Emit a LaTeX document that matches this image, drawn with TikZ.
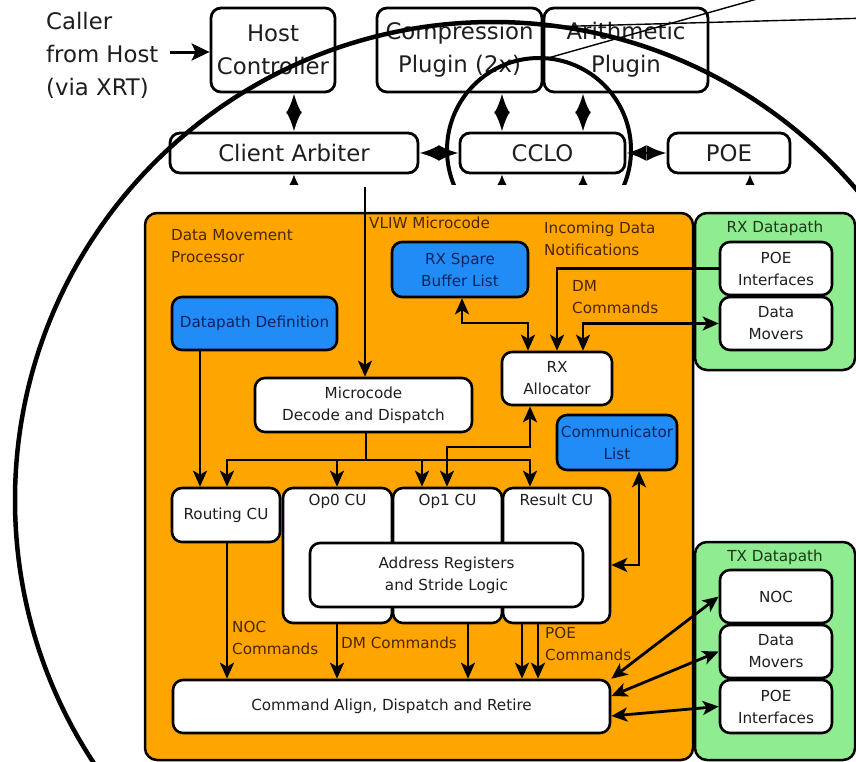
\documentclass[tikz,border=0pt]{standalone}
\usepackage{fontspec}
\setmainfont{DejaVu Sans}
\usetikzlibrary{arrows.meta}
\definecolor{dmorange}{RGB}{255,165,0}
\definecolor{dpgreen}{RGB}{144,236,144}
\definecolor{memblue}{RGB}{33,140,245}
\definecolor{dmtext}{RGB}{75,38,0}
\definecolor{bluetext}{RGB}{10,35,95}
\definecolor{greentext}{RGB}{25,55,25}
\definecolor{ink}{RGB}{30,30,30}

\begin{document}
\begin{tikzpicture}[x=1pt,y=-1pt,
  bigfont/.style={font=\fontsize{22.8}{33}\selectfont},
  smallfont/.style={font=\fontsize{15.2}{22}\selectfont},
  sized/.style 2 args={minimum width=#1pt, minimum height=#2pt},
  topbox/.style={draw, line width=2.8pt, rounded corners=10pt, fill=white, text=ink, align=center, bigfont, inner sep=0pt},
  panel/.style={draw, line width=2.5pt, rounded corners=12pt, inner sep=0pt},
  unit/.style={draw, line width=2.6pt, rounded corners=10pt, fill=white, text=ink, align=center, smallfont, inner sep=0pt},
  store/.style={unit, fill=memblue, text=bluetext},
  tag/.style={smallfont, text=dmtext, align=left, inner sep=0pt, anchor=west},
  wire/.style={line width=2.8pt},
  arr/.style={wire, -{Stealth[length=16pt,width=14pt,inset=4pt]}},
  darr/.style={wire, {Stealth[length=16pt,width=14pt,inset=4pt]}-{Stealth[length=16pt,width=14pt,inset=4pt]}},
  link/.style={line width=2.8pt, {Latex[length=20pt,width=16pt]}-{Latex[length=20pt,width=16pt]}},
  stub/.style={line width=2.8pt, -{Latex[length=14pt,width=14pt]}},
]
\useasboundingbox (0,0) rectangle (856,761);
\clip (0,0) rectangle (856,761);
\fill[white] (0,0) rectangle (856,761);

% ---------- system overview ----------
\node[bigfont, text=ink, align=left, anchor=west, inner sep=0pt] (caller) at (46,55) {Caller\\from Host\\(via XRT)};
\node[topbox, sized={124}{84}] (host)  at (273,50)   {Host\\Controller};
\node[topbox, sized={165}{84}] (comp)  at (459.5,50) {Compression\\Plugin (2x)};
\node[topbox, sized={164}{84}] (arith) at (626,50)   {Arithmetic\\Plugin};
\node[topbox, sized={248}{40}] (arb)   at (294,153)  {Client Arbiter};
\node[topbox, sized={165}{40}] (cclo)  at (542.5,153){CCLO};
\node[topbox, sized={122}{40}] (poe)   at (729,153)  {POE};

\coordinate (callout) at (170,52);
\draw[line width=3pt, -{Stealth[length=18pt,width=17pt,inset=4pt]}] (callout) -- (callout -| host.west);

\draw[link] (294,0 |- host.south) -- (294,0 |- arb.north);
\draw[link] (502,0 |- comp.south) -- (502,0 |- cclo.north);
\draw[link] (583,0 |- arith.south) -- (583,0 |- cclo.north);
\draw[link] (arb.east) -- (cclo.west);
\draw[link] (cclo.east) -- (poe.west);

\draw[stub] (294,205) -- (294,0 |- arb.south);
\draw[stub] (502,205) -- (502,0 |- cclo.south);
\draw[stub] (583,205) -- (583,0 |- cclo.south);
\draw[stub] (750,205) -- (750,0 |- poe.south);

% magnified region and its guide lines
\draw[line width=4pt] (539,150) circle[radius=92pt];
\draw[line width=1.4pt] (548,58) -- (796,-12);
\draw[line width=1.4pt] (543,27) -- (870,18);

% ---------- detail view ----------
\fill[white] (0,185) rectangle (856,761);

\node[panel, fill=dmorange, sized={548}{547}] (dmp)  at (419,486.5) {};
\node[panel, fill=dpgreen,  sized={160}{157}] (rxdp) at (775,291.5) {};
\node[panel, fill=dpgreen,  sized={160}{218}] (txdp) at (775,651) {};

\node[tag] (dmplabel)  at (171,246) {Data Movement\\Processor};
\node[tag] (vliwlabel) at (369,223) {VLIW Microcode};
\node[tag] (inclabel)  at (544,239) {Incoming Data\\Notifications};
\node[tag] (dmclabel)  at (572,297) {DM\\Commands};
\node[tag] (noclabel)  at (232,638) {NOC\\Commands};
\node[tag] (dm2label)  at (341,643) {DM Commands};
\node[tag] (poelabel)  at (545,644) {POE\\Commands};
\node[smallfont, text=greentext, inner sep=0pt] (rxlabel) at (775,228) {RX Datapath};
\node[smallfont, text=greentext, inner sep=0pt] (txlabel) at (775,557) {TX Datapath};

\node[unit, sized={112}{53}] (rxpoe) at (776,268.5) {POE\\Interfaces};
\node[unit, sized={112}{53}] (rxdm)  at (776,323.5) {Data\\Movers};
\node[unit, sized={112}{53}] (txnoc) at (776,596.5) {NOC};
\node[unit, sized={112}{53}] (txdm)  at (776,651.5) {Data\\Movers};
\node[unit, sized={112}{53}] (txpoe) at (776,706.5) {POE\\Interfaces};

\node[store, sized={165}{53}] (dpdef)   at (254.5,323.5) {Datapath Definition};
\node[store, sized={136}{55}] (rxspare) at (460,269.5)   {RX Spare\\Buffer List};
\node[store, sized={120}{55}] (comm)    at (617,442.5)   {Communicator\\List};
\node[unit,  sized={110}{53}] (rxalloc) at (557,378.5)   {RX\\Allocator};
\node[unit,  sized={217}{54}] (mdd)     at (363.5,405)   {Microcode\\Decode and Dispatch};

\node[unit, sized={108}{54}]  (routing) at (226,515)     {Routing CU};
\node[unit, sized={109}{135}] (op0)     at (337.5,555.5) {};
\node[unit, sized={109}{135}] (op1)     at (447.5,555.5) {};
\node[unit, sized={107}{135}] (result)  at (556.5,555.5) {};
\node[smallfont, text=ink, anchor=north, inner sep=0pt] (op0tag) at ([yshift=-7pt]op0.north) {Op0 CU};
\node[smallfont, text=ink, anchor=north, inner sep=0pt] (op1tag) at ([yshift=-7pt]op1.north) {Op1 CU};
\node[smallfont, text=ink, anchor=north, inner sep=0pt] (restag) at ([yshift=-7pt]result.north) {Result CU};
\node[unit, sized={273}{64}]  (addr)    at (446.5,575)   {Address Registers\\and Stride Logic};
\node[unit, sized={437}{53}]  (cadr)    at (391.5,706.5) {Command Align, Dispatch and Retire};

% microcode path
\coordinate (vliwtop) at (365,187);
\draw[arr] (vliwtop) -- (vliwtop |- mdd.north);
\coordinate (bus) at (366,460);
\draw[wire] (bus |- mdd.south) -- (bus);
\draw[arr] (bus) -| (227,0 |- routing.north);
\draw[arr] (bus) -| (530,0 |- result.north);
\draw[arr] (337,0 |- bus) -- (337,0 |- op0.north);
\draw[arr] (422,0 |- bus) -- (422,0 |- op1.north);
\draw[arr] (200,0 |- dpdef.south) -- (200,0 |- routing.north);

% receive allocation
\draw[darr] (462,0 |- rxspare.south) -- (462,323) -| (528,0 |- rxalloc.north);
\draw[arr] (rxpoe.west) -| (557,0 |- rxalloc.north);
\draw[darr] (rxdm.west) -| (583,0 |- rxalloc.north);
\draw[darr] (530,0 |- rxalloc.south) -- (530,447) -| (447,0 |- op1.north);
\draw[darr] (639,0 |- comm.south) |- (result.east |- 0,565);

% command streams
\draw[arr] (227,0 |- routing.south) -- (227,0 |- cadr.north);
\draw[arr] (337,0 |- op0.south) -- (337,0 |- cadr.north);
\draw[arr] (468,0 |- op1.south) -- (468,0 |- cadr.north);
\draw[arr] (522,0 |- result.south) -- (522,0 |- cadr.north);
\draw[arr] (538,0 |- result.south) -- (538,0 |- cadr.north);

% transmit datapath
\draw[darr] (cadr.north east) -- (txnoc.west);
\draw[darr] (cadr.east |- 0,696) -- (txdm.west);
\draw[darr] (cadr.east |- 0,716) -- (txpoe.west);

% magnifier outline
\draw[line width=4.5pt] (493,500) circle[radius=478pt];
\end{tikzpicture}
\end{document}
